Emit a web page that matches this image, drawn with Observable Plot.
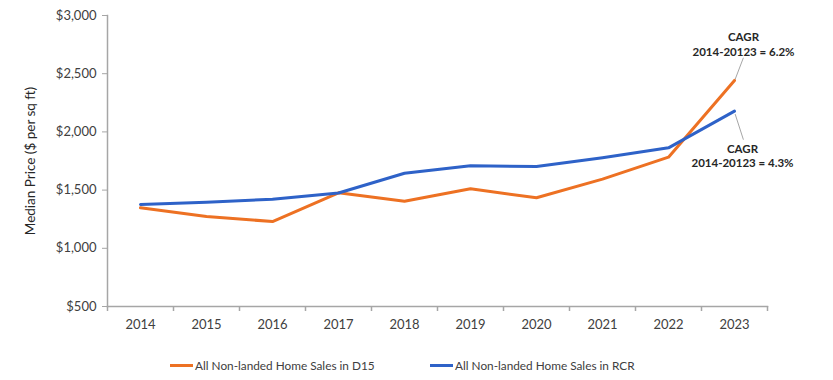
<!DOCTYPE html>
<html>
<head>
<meta charset="utf-8">
<script src="https://cdn.jsdelivr.net/npm/d3@7"></script>
<script src="https://cdn.jsdelivr.net/npm/@observablehq/plot@0.6"></script>
<style>
  html, body { margin: 0; padding: 0; background: #fff; }
  #chart { width: 833px; }
  .legend { position: relative; height: 40px; font-family: Lato, "Open Sans", sans-serif; font-size: 11.8px; color: #404040; }
  .legend .item { position: absolute; top: 18px; display: flex; align-items: center; }
  .legend .sw { width: 23px; height: 3px; margin-right: 2px; }
</style>
</head>
<body>
<div id="chart"></div>
<script>
const years = [2014, 2015, 2016, 2017, 2018, 2019, 2020, 2021, 2022, 2023];
const d15 = [1348, 1273, 1230, 1477, 1405, 1511, 1434, 1594, 1783, 2442];
const rcr = [1376, 1396, 1421, 1475, 1645, 1709, 1703, 1777, 1863, 2178];
const seriesNames = ["All Non-landed Home Sales in D15", "All Non-landed Home Sales in RCR"];
const colors = ["#ED7123", "#2E62C8"];
const yTicks = [500, 1000, 1500, 2000, 2500, 3000];
const cagrLabels = ["CAGR\n2014-20123 = 6.2%", "CAGR\n2014-20123 = 4.3%"];

const data = [];
years.forEach((yr, i) => {
  data.push({ year: yr, value: d15[i], series: seriesNames[0] });
  data.push({ year: yr, value: rcr[i], series: seriesNames[1] });
});

const last = years.length - 1;
const annTop = [{ x: years[last], y: d15[last], label: cagrLabels[0] }];
const annBot = [{ x: years[last], y: rcr[last], label: cagrLabels[1] }];
const boundaries = [years[0] - 0.5, ...years.map(y => y + 0.5)];

const font = "Lato, 'Open Sans', sans-serif";
const chart = Plot.plot({
  width: 833,
  height: 340,
  marginLeft: 107,
  marginRight: 66,
  marginTop: 15,
  marginBottom: 34,
  style: { fontFamily: font, fontSize: "13px", color: "#404040", background: "#fff" },
  x: { domain: [years[0] - 0.5, years[last] + 0.5] },
  y: { domain: [500, 3000] },
  color: { domain: seriesNames, range: colors },
  marks: [
    Plot.axisY({ ticks: yTicks, tickFormat: d => "$" + d3.format(",")(d), tickSize: 5, tickPadding: 6, stroke: "#a6a6a6",
      label: null, fontSize: 13 }),
    Plot.axisY({ ticks: [], label: "Median Price ($ per sq ft)", labelAnchor: "center", labelArrow: "none", labelOffset: 82,
      fontSize: 13.5, fill: "#262626" }),
    Plot.axisX({ ticks: boundaries, tickFormat: () => "", tickSize: 5, stroke: "#a6a6a6", strokeWidth: 1.5, label: null }),
    Plot.axisX({ ticks: years, tickFormat: d => String(d), tickSize: 0, tickPadding: 13, label: null, fontSize: 13 }),
    Plot.frame({ anchor: "left", stroke: "#a6a6a6", strokeWidth: 1.5 }),
    Plot.frame({ anchor: "bottom", stroke: "#a6a6a6", strokeWidth: 1.5 }),
    Plot.line(data, { x: "year", y: "value", z: "series", stroke: "series", strokeWidth: 3 }),
    Plot.link(annTop, {
      x1: d => d.x + 0.01, y1: d => d.y + 10,
      x2: d => d.x + 0.135, y2: d => d.y + 195,
      stroke: "#a6a6a6", strokeWidth: 1
    }),
    Plot.link(annBot, {
      x1: d => d.x + 0.01, y1: d => d.y - 25,
      x2: d => d.x + 0.135, y2: d => d.y - 245,
      stroke: "#a6a6a6", strokeWidth: 1
    }),
    Plot.text(annTop, {
      x: "x", y: "y", text: "label", dx: 9, dy: -36.5,
      lineHeight: 1.25, fontWeight: "bold", fontSize: 11.5, fill: "#262626", textAnchor: "middle"
    }),
    Plot.text(annBot, {
      x: "x", y: "y", text: "label", dx: 8, dy: 44.5,
      lineHeight: 1.25, fontWeight: "bold", fontSize: 11.5, fill: "#262626", textAnchor: "middle"
    })
  ]
});
document.getElementById("chart").appendChild(chart);

const legend = document.createElement("div");
legend.className = "legend";
const lefts = [170, 430];
seriesNames.forEach((name, i) => {
  const item = document.createElement("div");
  item.className = "item";
  item.style.left = lefts[i] + "px";
  item.innerHTML = `<span class="sw" style="background:${colors[i]}"></span><span>${name}</span>`;
  legend.appendChild(item);
});
document.getElementById("chart").appendChild(legend);
</script>
</body>
</html>
